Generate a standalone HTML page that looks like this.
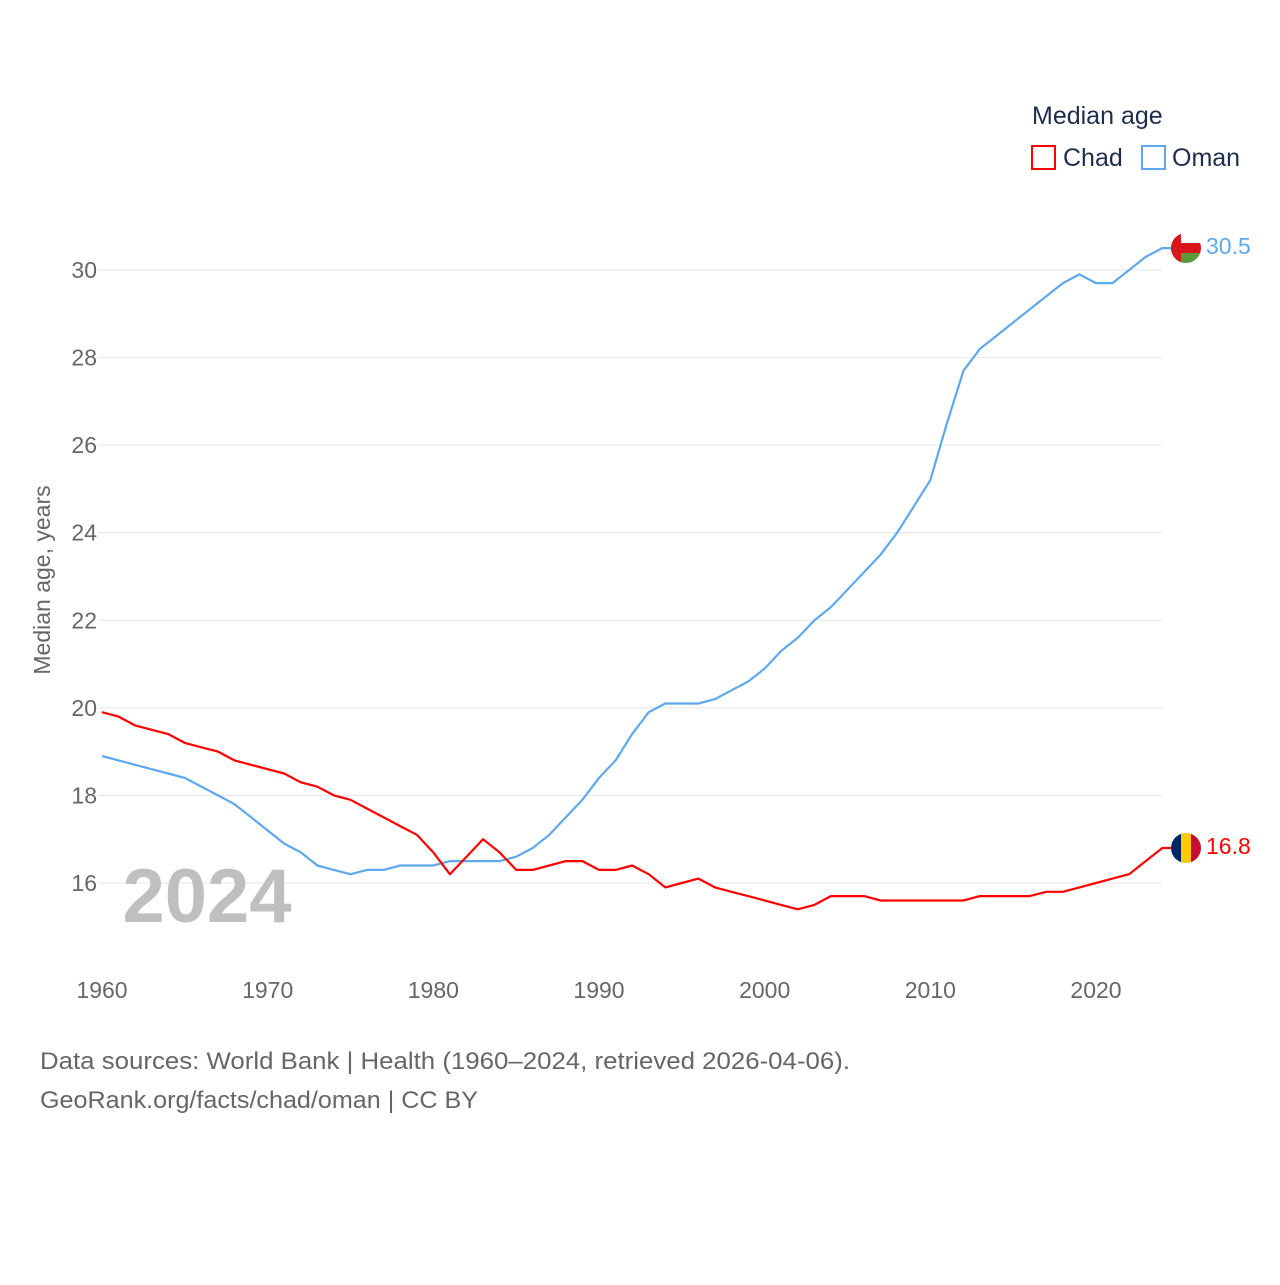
<!DOCTYPE html>
<html><head><meta charset="utf-8"><style>
body{margin:0;background:#fff;font-family:"Liberation Sans",sans-serif;}
svg text{font-family:"Liberation Sans",sans-serif;}
</style></head><body>
<svg id="chart" width="1280" height="1280" xmlns="http://www.w3.org/2000/svg">
<g id="grid"></g>
<text x="207" y="922" font-size="76" font-weight="bold" fill="#bfbfbf" text-anchor="middle">2024</text>
<g id="series"></g>
<text transform="translate(50,580) rotate(-90)" font-size="23" fill="#666" text-anchor="middle">Median age, years</text>
<g>
<text x="1032" y="124" font-size="25" fill="#1f2d4d">Median age</text>
<rect x="1032" y="146" width="23" height="23" fill="none" stroke="#ff0000" stroke-width="2"/>
<text x="1063" y="166" font-size="25" fill="#1f2d4d">Chad</text>
<rect x="1142" y="146" width="23" height="23" fill="none" stroke="#5ea8ee" stroke-width="2"/>
<text x="1172" y="166" font-size="25" fill="#1f2d4d">Oman</text>
</g>
<g>
<clipPath id="c1"><circle cx="1186" cy="248" r="15"/></clipPath>
<g clip-path="url(#c1)"><rect x="1171" y="233" width="30" height="30" fill="#fff"/><rect x="1171" y="253" width="30" height="10" fill="#5a9a3a"/><rect x="1171" y="243" width="30" height="10" fill="#db161b"/><rect x="1171" y="233" width="10" height="30" fill="#db161b"/></g>
</g>
<g>
<clipPath id="c2"><circle cx="1186" cy="848" r="15"/></clipPath>
<g clip-path="url(#c2)"><rect x="1171" y="833" width="10" height="30" fill="#002664"/><rect x="1181" y="833" width="10" height="30" fill="#fecb00"/><rect x="1191" y="833" width="10" height="30" fill="#c60c30"/></g>
</g>
<text id="omanLabel" x="1206" y="254" font-size="23" fill="#5ea8ee">30.5</text>
<text id="chadLabel" x="1206" y="854" font-size="23" fill="#ff0000">16.8</text>
<text x="40" y="1069" font-size="24" fill="#666" textLength="810" lengthAdjust="spacingAndGlyphs">Data sources: World Bank | Health (1960–2024, retrieved 2026-04-06).</text>
<text x="40" y="1108" font-size="24" fill="#666" textLength="438" lengthAdjust="spacingAndGlyphs">GeoRank.org/facts/chad/oman | CC BY</text>
</svg>
<script>
const years=[];for(let y=1960;y<=2024;y++)years.push(y);
const chad=[19.9,19.8,19.6,19.5,19.4,19.2,19.1,19.0,18.8,18.7,18.6,18.5,18.3,18.2,18.0,17.9,17.7,17.5,17.3,17.1,16.7,16.2,16.6,17.0,16.7,16.3,16.3,16.4,16.5,16.5,16.3,16.3,16.4,16.2,15.9,16.0,16.1,15.9,15.8,15.7,15.6,15.5,15.4,15.5,15.7,15.7,15.7,15.6,15.6,15.6,15.6,15.6,15.6,15.7,15.7,15.7,15.7,15.8,15.8,15.9,16.0,16.1,16.2,16.5,16.8];
const oman=[18.9,18.8,18.7,18.6,18.5,18.4,18.2,18.0,17.8,17.5,17.2,16.9,16.7,16.4,16.3,16.2,16.3,16.3,16.4,16.4,16.4,16.5,16.5,16.5,16.5,16.6,16.8,17.1,17.5,17.9,18.4,18.8,19.4,19.9,20.1,20.1,20.1,20.2,20.4,20.6,20.9,21.3,21.6,22.0,22.3,22.7,23.1,23.5,24.0,24.6,25.2,26.5,27.7,28.2,28.5,28.8,29.1,29.4,29.7,29.9,29.7,29.7,30.0,30.3,30.5];
const yTicks=[16,18,20,22,24,26,28,30];
const xTicks=[1960,1970,1980,1990,2000,2010,2020];
const X=y=>102+(y-1960)*(1096-102)/60;
const Y=v=>883-(v-16)*(883-270)/14;
const NS="http://www.w3.org/2000/svg";
const grid=document.getElementById('grid'),series=document.getElementById('series');
function mk(tag,attrs,parent){const e=document.createElementNS(NS,tag);for(const k in attrs)e.setAttribute(k,attrs[k]);parent.appendChild(e);return e;}
yTicks.forEach(v=>{
 const l=mk('line',{x1:98,x2:1162,y1:Y(v),y2:Y(v),stroke:'#e6e6e6','stroke-width':1},grid);
 
 
 const t=mk('text',{x:97,y:Y(v)+8,'font-size':23,fill:'#666','text-anchor':'end'},grid);t.textContent=v;
 
 
});
xTicks.forEach(v=>{
 const t=mk('text',{x:X(v),y:998,'font-size':23,fill:'#666','text-anchor':'middle'},grid);t.textContent=v;
 
 
});
function line(data,color,name){
 let d=data.map((v,i)=>(i?'L':'M')+X(years[i]).toFixed(1)+','+Y(v).toFixed(1)).join(' ');
 d+=' L1171,'+Y(data[data.length-1]).toFixed(1);
 const p=mk('path',{d:d,fill:'none',stroke:color,'stroke-width':2.2,'stroke-linejoin':'round'},series);
 
 
}
line(oman,'#5ea8ee','oman-line');
line(chad,'#ff0000','chad-line');
document.getElementById('omanLabel').textContent=oman[oman.length-1].toFixed(1);
document.getElementById('chadLabel').textContent=chad[chad.length-1].toFixed(1);
</script>
</body></html>
